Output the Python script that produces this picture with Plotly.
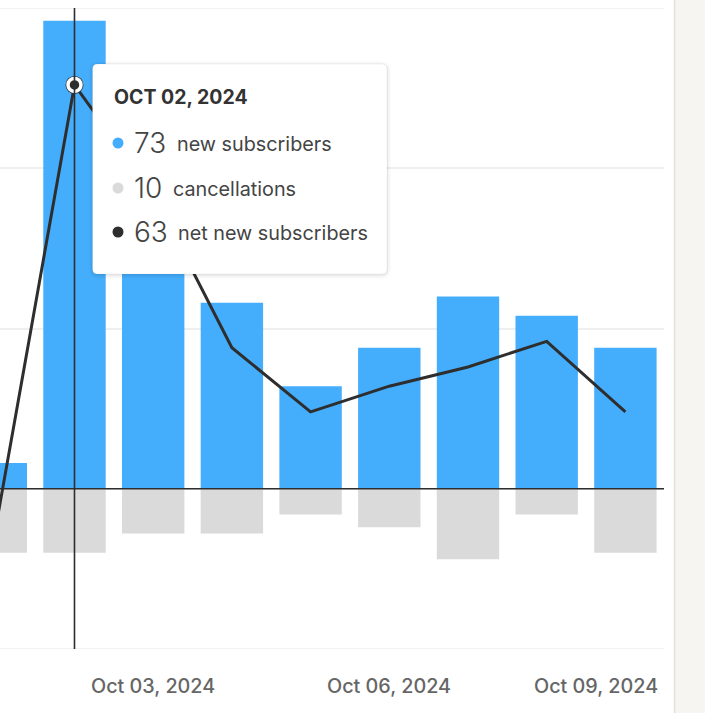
import plotly.graph_objects as go
import pandas as pd

# daily subscriber figures
dates = ["2024-10-01", "2024-10-02", "2024-10-03", "2024-10-04", "2024-10-05",
         "2024-10-06", "2024-10-07", "2024-10-08", "2024-10-09"]
new_subs = [4, 73, 53, 29, 16, 22, 30, 27, 22]
cancellations = [10, 10, 7, 7, 4, 6, 11, 4, 10]
net_subs = [-6, 63, 46, 22, 12, 16, 19, 23, 12]

tick_dates = ["2024-10-03", "2024-10-06", "2024-10-09"]
tick_labels = ["Oct 03, 2024", "Oct 06, 2024", "Oct 09, 2024"]

hover_idx = 1  # tooltip shown for Oct 02

BLUE = "#45aefc"
GRAY = "#dadada"
DARK = "#2e2e2e"
FONT = "Inter"

W, H = 705, 713
L, R, T, B = 0, 41, 8, 64
PW, PH = W - L - R, H - T - B

def px(x):
    return (x - L) / PW

def py(y):
    return (T + PH - y) / PH

DAY_MS = 86400000
bar_w = 0.793 * DAY_MS

fig = go.Figure()
fig.add_trace(go.Bar(x=dates, y=new_subs, width=bar_w, marker=dict(color=BLUE, line=dict(width=0)),
                     name="new subscribers"))
fig.add_trace(go.Bar(x=dates, y=[-c for c in cancellations], width=bar_w,
                     marker=dict(color=GRAY, line=dict(width=0)), name="cancellations"))
fig.add_trace(go.Scatter(x=dates, y=net_subs, mode="lines", line=dict(color=DARK, width=3),
                         name="net new subscribers"))

# hovered point
hx, hy = dates[hover_idx], net_subs[hover_idx]
fig.add_trace(go.Scatter(x=[hx], y=[hy], mode="markers", marker=dict(size=18, color=DARK)))
fig.add_trace(go.Scatter(x=[hx], y=[hy], mode="markers",
                         marker=dict(size=13, color=DARK, line=dict(color="white", width=3.5))))

shapes = []
# outer gridlines (plotly skips the ones on the range edges)
for gy in (-25, 75):
    shapes.append(dict(type="line", xref="paper", yref="y", x0=0, x1=1, y0=gy, y1=gy,
                       line=dict(color="#efefef", width=1.5), layer="below"))
# zero line
shapes.append(dict(type="line", xref="paper", yref="y", x0=0, x1=1, y0=0, y1=0,
                   line=dict(color=DARK, width=1.6), layer="above"))
# crosshair
shapes.append(dict(type="line", xref="x", yref="paper", x0=hx, x1=hx, y0=0, y1=1,
                   line=dict(color=DARK, width=1.6), layer="above"))

def rounded_rect(x0, y0, x1, y1, r):
    rx, ry = r / PW, r / PH
    a0, a1, b0, b1 = px(x0), px(x1), py(y1), py(y0)
    return (f"M {a0 + rx},{b1} L {a1 - rx},{b1} Q {a1},{b1} {a1},{b1 - ry} "
            f"L {a1},{b0 + ry} Q {a1},{b0} {a1 - rx},{b0} L {a0 + rx},{b0} "
            f"Q {a0},{b0} {a0},{b0 + ry} L {a0},{b1 - ry} Q {a0},{b1} {a0 + rx},{b1} Z")

# tooltip box with a soft shadow
for grow, alpha in [(4, 0.015), (2.5, 0.025), (1.2, 0.04)]:
    shapes.append(dict(type="path", xref="paper", yref="paper",
                       path=rounded_rect(92.5 - grow, 64 - grow + 1, 387 + grow, 274 + grow + 1, 6 + grow),
                       fillcolor=f"rgba(0,0,0,{alpha})", line=dict(width=0), layer="above"))
shapes.append(dict(type="path", xref="paper", yref="paper",
                   path=rounded_rect(92.5, 64, 387, 274, 5),
                   fillcolor="white", line=dict(color="rgba(0,0,0,0.05)", width=1), layer="above"))

# right-hand page strip
shapes.append(dict(type="rect", xref="paper", yref="paper", x0=px(674), x1=px(W + 2),
                   y0=py(H + 2), y1=py(-2), fillcolor="#f6f5f2", line=dict(width=0), layer="below"))
shapes.append(dict(type="line", xref="paper", yref="paper", x0=px(674.5), x1=px(674.5),
                   y0=py(H + 2), y1=py(-2), line=dict(color="#e2e1de", width=1.5), layer="below"))

annotations = []
annotations.append(dict(text="<b>OCT 02, 2024</b>", xref="paper", yref="paper", x=px(112), y=py(97),
                        xanchor="left", yanchor="middle", showarrow=False,
                        font=dict(family=FONT, size=19.5, color="#333333")))

rows = [
    (new_subs[hover_idx], "new subscribers", BLUE, 143, 175),
    (cancellations[hover_idx], "cancellations", GRAY, 188, 171),
    (net_subs[hover_idx], "net new subscribers", DARK, 232, 176),
]
for val, label, col, ry, lx in rows:
    shapes.append(dict(type="circle", xref="paper", yref="paper", x0=px(112.5), x1=px(123.5),
                       y0=py(ry + 5.5), y1=py(ry - 5.5), fillcolor=col, line=dict(width=0),
                       layer="above"))
    annotations.append(dict(text=str(val), xref="paper", yref="paper", x=px(132), y=py(ry),
                            xanchor="left", yanchor="middle", showarrow=False,
                            font=dict(family=FONT, size=28, color="#444444", weight=300)))
    annotations.append(dict(text=label, xref="paper", yref="paper", x=px(lx), y=py(ry + 1),
                            xanchor="left", yanchor="middle", showarrow=False,
                            font=dict(family=FONT, size=19.8, color="#444444")))

# x tick labels; the last one is pushed inside the plot edge
for i, (d, lab) in enumerate(zip(tick_dates, tick_labels)):
    last = i == len(tick_dates) - 1
    xpos = pd.Timestamp(d) + pd.Timedelta(hours=10.7) if last else d
    annotations.append(dict(text=lab, xref="x", yref="paper", x=xpos, y=py(686),
                            xanchor="right" if last else "center", yanchor="middle",
                            showarrow=False,
                            font=dict(family=FONT, size=19.8, color="#666666", weight=500)))

x_start = pd.Timestamp("2024-10-01 01:17")
x_end = x_start + pd.Timedelta(days=PW / 78.7)

fig.update_layout(
    width=W, height=H, autosize=False,
    margin=dict(l=L, r=R, t=T, b=B, pad=0),
    barmode="relative",
    showlegend=False,
    hovermode=False,
    plot_bgcolor="white",
    paper_bgcolor="white",
    font=dict(family=FONT),
    shapes=shapes,
    annotations=annotations,
    xaxis=dict(type="date", range=[x_start, x_end], showgrid=False, zeroline=False,
               showticklabels=False, ticks="", showline=False),
    yaxis=dict(range=[-25, 75], tickvals=[-25, 0, 25, 50, 75], showgrid=True,
               gridcolor="#efefef", gridwidth=1.5, zeroline=False, showticklabels=False,
               ticks="", showline=False),
)

# drop the default body margin so the figure sits at the window's corner
fig.write_html("out.html", config={"displayModeBar": False},
               post_script="document.body.style.margin='0px';document.body.style.overflow='hidden';")
